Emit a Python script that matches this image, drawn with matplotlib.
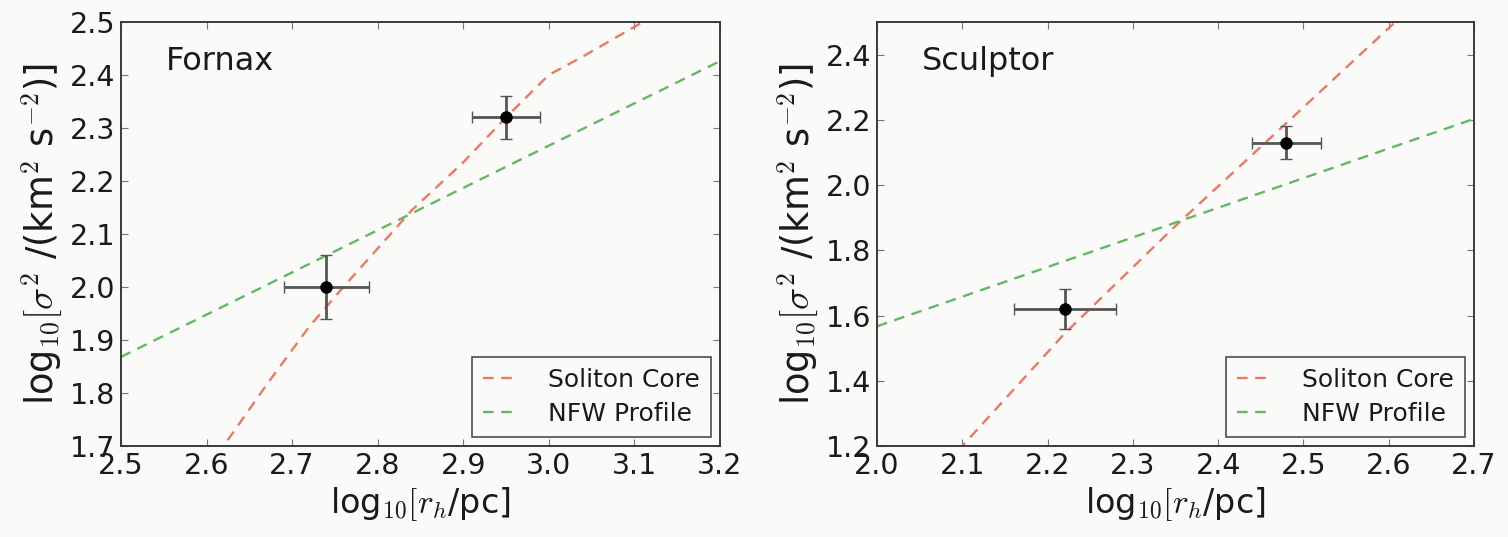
import matplotlib
matplotlib.use("Agg")
import matplotlib.pyplot as plt

plt.rcParams["font.family"] = ["DejaVu Sans"]
plt.rcParams["mathtext.fontset"] = "cm"

# ---- Fornax ----
fornax_rh = [2.74, 2.95]
fornax_sig = [2.00, 2.32]
fornax_rh_err = [0.05, 0.04]
fornax_sig_err = [0.06, 0.04]
fornax_sol_x = [2.60, 2.62, 2.67, 2.72, 2.76, 2.84, 2.90, 2.95, 3.00, 3.04, 3.11, 3.20]
fornax_sol_y = [1.655, 1.70, 1.815, 1.925, 2.00, 2.145, 2.235, 2.32, 2.40, 2.435, 2.50, 2.58]
fornax_nfw_x = [2.50, 2.85, 3.20]
fornax_nfw_y = [1.868, 2.147, 2.426]

# ---- Sculptor ----
sculptor_rh = [2.22, 2.48]
sculptor_sig = [1.62, 2.13]
sculptor_rh_err = [0.06, 0.04]
sculptor_sig_err = [0.06, 0.05]
sculptor_sol_x = [2.08, 2.10, 2.22, 2.35, 2.48, 2.55, 2.62, 2.66]
sculptor_sol_y = [1.145, 1.20, 1.545, 1.875, 2.19, 2.36, 2.53, 2.63]
sculptor_nfw_x = [2.00, 2.35, 2.70]
sculptor_nfw_y = [1.567, 1.885, 2.203]

x_ticks_f = [2.5, 2.6, 2.7, 2.8, 2.9, 3.0, 3.1, 3.2]
y_ticks_f = [1.7, 1.8, 1.9, 2.0, 2.1, 2.2, 2.3, 2.4, 2.5]
x_ticks_s = [2.0, 2.1, 2.2, 2.3, 2.4, 2.5, 2.6, 2.7]
y_ticks_s = [1.2, 1.4, 1.6, 1.8, 2.0, 2.2, 2.4]

RED = "#ef7762"
GREEN = "#63b863"
BG = "#fafbf8"
SPINE = "#3a3a3a"

fig = plt.figure(figsize=(15.08, 5.37), dpi=100, facecolor=BG)
ax1 = fig.add_axes([0.0802, 0.1695, 0.3972, 0.7896])
ax2 = fig.add_axes([0.5816, 0.1695, 0.3959, 0.7896])


def panel(ax, name, rh, sig, rh_err, sig_err, sx, sy, nx, ny, xlim, ylim, xt, yt):
    ax.set_facecolor(BG)
    ax.plot(sx, sy, color=RED, lw=1.7, linestyle=(0, (4.5, 3.2)), label="Soliton Core", zorder=2)
    ax.plot(nx, ny, color=GREEN, lw=1.7, linestyle=(0, (4.5, 3.2)), label="NFW Profile", zorder=2)
    ax.errorbar(rh, sig, xerr=rh_err, yerr=sig_err, fmt="o", color="black",
                ms=8, ecolor="#555555", elinewidth=2.0, capsize=4, capthick=1.0,
                zorder=3)
    ax.set_xlim(*xlim)
    ax.set_ylim(*ylim)
    ax.set_xticks(xt)
    ax.set_yticks(yt)
    ax.set_xticklabels([f"{v:.1f}" for v in xt])
    ax.set_yticklabels([f"{v:.1f}" for v in yt])
    ax.tick_params(direction="in", length=5, width=0.8, color="#777777",
                   top=True, right=True, labelsize=20.5, labelcolor="#1a1a1a", pad=4)
    for sp in ax.spines.values():
        sp.set_color(SPINE)
        sp.set_linewidth(1.4)
    ax.set_xlabel(r"log$_{10}[r_h$/pc]", fontsize=24, color="#1a1a1a", labelpad=4)
    ax.set_ylabel(r"log$_{10}[\sigma^2$ /(km$^2$ s$^{-2}$)]", fontsize=26.5,
                  color="#1a1a1a", labelpad=4)
    ax.text(0.075, 0.887, name, transform=ax.transAxes, fontsize=23,
            color="#1a1a1a", va="baseline", ha="left")
    leg = ax.legend(loc="lower right", fontsize=18, frameon=True, fancybox=False,
                    handlelength=1.3, handletextpad=1.3, borderpad=0.45,
                    labelspacing=0.4, borderaxespad=0.35)
    leg.get_frame().set_edgecolor("#222222")
    leg.get_frame().set_linewidth(1.2)
    leg.get_frame().set_facecolor(BG)
    for t in leg.get_texts():
        t.set_color("#1a1a1a")


panel(ax1, "Fornax", fornax_rh, fornax_sig, fornax_rh_err, fornax_sig_err,
      fornax_sol_x, fornax_sol_y, fornax_nfw_x, fornax_nfw_y,
      (2.5, 3.2), (1.7, 2.5), x_ticks_f, y_ticks_f)
panel(ax2, "Sculptor", sculptor_rh, sculptor_sig, sculptor_rh_err, sculptor_sig_err,
      sculptor_sol_x, sculptor_sol_y, sculptor_nfw_x, sculptor_nfw_y,
      (2.0, 2.7), (1.2, 2.5), x_ticks_s, y_ticks_s)

fig.savefig("out.png", dpi=100, facecolor=BG)
